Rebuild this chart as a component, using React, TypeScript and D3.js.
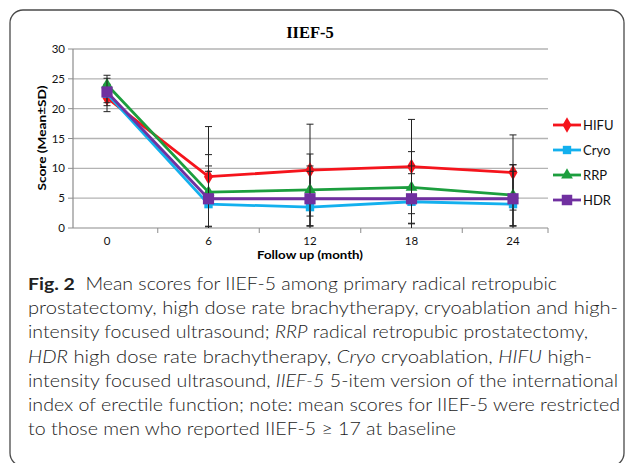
import * as d3 from "d3";

const months = [0, 6, 12, 18, 24];
const yTicks = [0, 5, 10, 15, 20, 25, 30];
const xTickMarks = [3, 9, 15, 21];

const hifuMean = [21.8, 8.6, 9.7, 10.3, 9.3];
const hifuSd = [2.3, 8.4, 7.7, 7.9, 6.3];
const cryoMean = [22.5, 4.0, 3.5, 4.4, 4.0];
const cryoSd = [1.5, 6.4, 6.9, 6.0, 6.6];
const rrpMean = [24.0, 6.0, 6.4, 6.8, 5.5];
const rrpSd = [1.6, 6.3, 6.0, 6.0, 5.1];
const hdrMean = [22.8, 4.9, 4.9, 4.9, 4.9];
const hdrSd = [2.3, 4.6, 4.6, 4.2, 4.6];

const series = [
  {name: "HIFU", mean: hifuMean, sd: hifuSd, color: "#f5141c", symbol: d3.symbolDiamond, size: 70},
  {name: "Cryo", mean: cryoMean, sd: cryoSd, color: "#13b0ee", symbol: d3.symbolSquare, size: 70},
  {name: "RRP", mean: rrpMean, sd: rrpSd, color: "#1c9e3e", symbol: d3.symbolTriangle, size: 60},
  {name: "HDR", mean: hdrMean, sd: hdrSd, color: "#7030a0", symbol: d3.symbolSquare, size: 125},
];

const captionLines = [
  {len: 529, parts: [["Fig. 2", "b"], ["  Mean scores for IIEF-5 among primary radical retropubic", ""]]},
  {len: 590, parts: [["prostatectomy, high dose rate brachytherapy, cryoablation and high-", ""]]},
  {len: 560, parts: [["intensity focused ultrasound; ", ""], ["RRP", "i"], [" radical retropubic prostatectomy,", ""]]},
  {len: 564, parts: [["HDR", "i"], [" high dose rate brachytherapy, ", ""], ["Cryo", "i"], [" cryoablation, ", ""], ["HIFU", "i"], [" high-", ""]]},
  {len: 590, parts: [["intensity focused ultrasound, ", ""], ["IIEF-5", "i"], [" 5-item version of the international", ""]]},
  {len: 592, parts: [["index of erectile function; note: mean scores for IIEF-5 were restricted", ""]]},
  {len: 428, parts: [["to those men who reported IIEF-5 \u2265 17 at baseline", ""]]},
];

const W = 630, H = 463;
const plot = {left: 73, right: 548, top: 49, bottom: 228};

export default function App() {
  // category axis is wider than the plot area in the original, so the ends are cut
  const x = d3.scaleLinear().domain([0, 24]).range([107, 513]);
  const xAt = (px: number) => x.invert(px);
  const y = d3.scaleLinear().domain([0, 30]).range([plot.bottom, plot.top]);
  const line = d3.line<number>().x((_, i) => x(months[i])).y(d => y(d));
  const tickFont = "Lato, 'Liberation Sans', sans-serif";

  return (
    <svg width={W} height={H} style={{position: "absolute", left: 0, top: 0}}>
      <defs>
        <clipPath id="plotclip">
          <rect x={plot.left} y={plot.top - 5} width={plot.right - plot.left} height={plot.bottom - plot.top + 5}/>
        </clipPath>
      </defs>
      <rect x={10} y={10} width={614} height={456} rx={13} fill="white" stroke="#4a4a4a" strokeWidth={1.3}/>

      <text x={310} y={38} textAnchor="middle" fontFamily="'Liberation Serif', 'Times New Roman', serif"
            fontWeight="bold" fontSize={16.5}>IIEF-5</text>

      {yTicks.map(t => (
        <g key={t}>
          {t > 0 && <line x1={plot.left} x2={plot.right} y1={y(t)} y2={y(t)} stroke="#b3b3b3" strokeWidth={1.3}/>}
          <line x1={plot.left - 5} x2={plot.left} y1={y(t)} y2={y(t)} stroke="#8c8c8c"/>
          <text x={65} y={y(t) + 4} textAnchor="end" fontFamily={tickFont} fontSize={11.5} fill="#111">{t}</text>
        </g>
      ))}
      <line x1={plot.left} x2={plot.left} y1={plot.top} y2={plot.bottom} stroke="#8c8c8c" strokeWidth={1.2}/>
      <line x1={plot.left} x2={plot.right} y1={plot.bottom} y2={plot.bottom} stroke="#8c8c8c" strokeWidth={1.2}/>
      {[...xTickMarks, xAt(plot.right)].map(m => (
        <line key={m} x1={x(m)} x2={x(m)} y1={plot.bottom} y2={plot.bottom + 5} stroke="#8c8c8c"/>
      ))}
      {months.map(m => (
        <text key={m} x={x(m)} y={245} textAnchor="middle" fontFamily={tickFont} fontSize={11.5} fill="#111">{m}</text>
      ))}
      <text x={310} y={259} textAnchor="middle" fontFamily={tickFont} fontWeight="bold" fontSize={11.5}
            textLength={106} lengthAdjust="spacingAndGlyphs">Follow up (month)</text>
      <text transform="translate(46,138) rotate(-90)" textAnchor="middle" fontFamily={tickFont} fontWeight="bold"
            fontSize={11.5} textLength={105} lengthAdjust="spacingAndGlyphs">Score (Mean±SD)</text>

      <g clipPath="url(#plotclip)">
        {series.map(s => (
          <g key={s.name}>
            <path d={line(s.mean) || ""} fill="none" stroke={s.color} strokeWidth={2.8}/>
            {s.mean.map((v, i) => {
              const cx = x(months[i]);
              const hi = y(v + s.sd[i]), lo = y(v - s.sd[i]);
              return (
                <g key={i} stroke="#222" strokeWidth={1}>
                  <line x1={cx} x2={cx} y1={hi} y2={lo}/>
                  <line x1={cx - 3.5} x2={cx + 3.5} y1={hi} y2={hi}/>
                  <line x1={cx - 3.5} x2={cx + 3.5} y1={lo} y2={lo}/>
                </g>
              );
            })}
            {s.mean.map((v, i) => (
              <path key={"m" + i} transform={`translate(${x(months[i])},${y(v)})`}
                    d={d3.symbol(s.symbol, s.size)() || ""} fill={s.color}/>
            ))}
          </g>
        ))}
      </g>

      {series.map((s, i) => {
        const ly = 125 + i * 25;
        return (
          <g key={s.name}>
            <line x1={553} x2={581} y1={ly} y2={ly} stroke={s.color} strokeWidth={2.8}/>
            <path transform={`translate(567,${ly})`} d={d3.symbol(s.symbol, s.name === "HDR" ? 110 : s.size)() || ""} fill={s.color}/>
            <text x={583} y={ly + 4.5} fontFamily={tickFont} fontSize={13} fill="#111">{s.name}</text>
          </g>
        );
      })}

      {captionLines.map((l, i) => (
        <text key={i} x={28} y={290 + i * 24.2} fontFamily="Lato, 'Noto Sans', sans-serif" fontSize={17.5}
              fontWeight={300} fill="#222" textLength={l.len} lengthAdjust="spacingAndGlyphs" xmlSpace="preserve">
          {l.parts.map(([t, st], j) => (
            <tspan key={j} fontWeight={st === "b" ? "bold" : 300} fontStyle={st === "i" ? "italic" : "normal"}>{t}</tspan>
          ))}
        </text>
      ))}
    </svg>
  );
}
